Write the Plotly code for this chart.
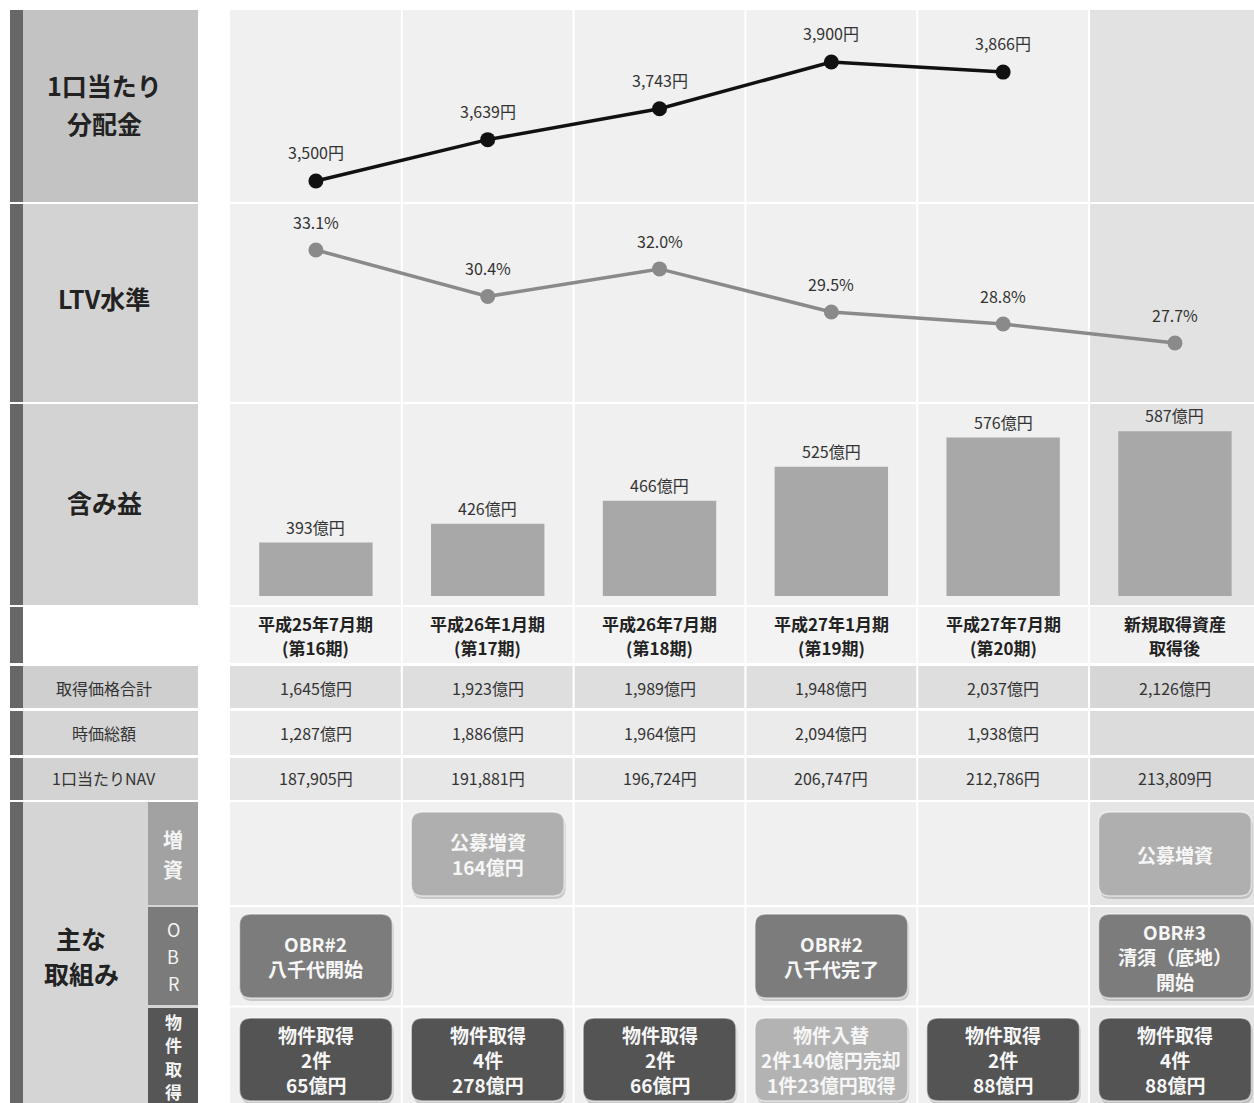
import plotly.graph_objects as go

W, H = 1254, 1103
FONT = "Noto Sans CJK JP"

# ---- data -------------------------------------------------------------
periods = [
    "平成25年7月期<br>(第16期)",
    "平成26年1月期<br>(第17期)",
    "平成26年7月期<br>(第18期)",
    "平成27年1月期<br>(第19期)",
    "平成27年7月期<br>(第20期)",
    "新規取得資産<br>取得後",
]
distribution_yen = [3500, 3639, 3743, 3900, 3866]
ltv_pct = [33.1, 30.4, 32.0, 29.5, 28.8, 27.7]
unrealized_gain = [393, 426, 466, 525, 576, 587]
acq_price_total = [1645, 1923, 1989, 1948, 2037, 2126]
market_value = [1287, 1886, 1964, 2094, 1938, None]
nav_per_unit = [187905, 191881, 196724, 206747, 212786, 213809]
offerings = [None, "公募増資<br>164億円", None, None, None, "公募増資"]
obr_events = ["OBR#2<br>八千代開始", None, None, "OBR#2<br>八千代完了", None,
              "OBR#3<br>清須（底地）<br>開始"]
acquisitions = [
    "物件取得<br>2件<br>65億円",
    "物件取得<br>4件<br>278億円",
    "物件取得<br>2件<br>66億円",
    "物件入替<br>2件140億円売却<br>1件23億円取得",
    "物件取得<br>2件<br>88億円",
    "物件取得<br>4件<br>88億円",
]


def X(px):
    return px / W


def Y(py):
    return 1 - py / H


COL_PX = 171.8  # pixels per column on the shared x axis
n = len(periods)
shapes, annotations = [], []


def rect(x0, x1, y0, y1, color, xref="paper"):
    shapes.append(dict(type="rect", xref=xref, yref="paper", x0=x0, x1=x1,
                       y0=Y(y1), y1=Y(y0), fillcolor=color, line_width=0,
                       layer="below"))


def rounded(cx, half, top, bot, color, r=11, layer="above", line=None):
    rx, ry = r / COL_PX, r / H
    x0, x1 = cx - half, cx + half
    y0, y1 = Y(bot), Y(top)
    path = (f"M {x0+rx},{y1} L {x1-rx},{y1} Q {x1},{y1} {x1},{y1-ry} "
            f"L {x1},{y0+ry} Q {x1},{y0} {x1-rx},{y0} L {x0+rx},{y0} "
            f"Q {x0},{y0} {x0},{y0+ry} L {x0},{y1-ry} Q {x0},{y1} {x0+rx},{y1} Z")
    shp = dict(type="path", xref="x", yref="paper", path=path,
               fillcolor=color, layer=layer, line=dict(width=0))
    if line:
        shp["line"] = line
    shapes.append(shp)


def text(x, y, s, size=16, color="#333333", bold=False, xref="paper", height=None):
    ann = dict(x=x, y=Y(y), xref=xref, yref="paper", text=s,
               showarrow=False, xanchor="center", yanchor="middle",
               font=dict(family=FONT, size=size, color=color,
                         weight="bold" if bold else "normal"))
    if height:
        ann["height"] = height
        ann["borderpad"] = 0
    annotations.append(ann)


# ---- row bands (top, bottom) in pixels ---------------------------------
bands = {
    "dist": (10, 202), "ltv": (204, 402), "gain": (404, 605),
    "head": (607, 663), "acq": (666, 708), "mv": (711, 755),
    "nav": (758, 800), "main": (802, 1103),
}
main_bg = {"dist": ("#f0f0f0", "#e2e2e2"), "ltv": ("#f0f0f0", "#e2e2e2"),
           "gain": ("#f0f0f0", "#e2e2e2"), "head": ("#f3f3f3", "#f1f1f1"),
           "acq": ("#dedede", "#d6d6d6"), "mv": ("#ebebeb", "#dcdcdc"),
           "nav": ("#e7e7e7", "#d9d9d9"), "main": ("#f0f0f0", "#e5e5e5")}
left_bg = {"dist": "#c3c3c3", "ltv": "#d3d3d3", "gain": "#d3d3d3",
           "head": "#ffffff", "acq": "#cfcfcf", "mv": "#d5d5d5",
           "nav": "#d3d3d3", "main": "#d5d5d5"}

for key, (t, b) in bands.items():
    for i in range(n):
        x0 = i - 0.5 + (0.006 if i > 0 else 0)
        x1 = i + 0.5 - 0.006 if i < n - 1 else 5.6
        rect(x0, x1, t, b, main_bg[key][1] if i == n - 1 else main_bg[key][0], xref="x")
    rect(X(10), X(23), t, b, "#676767")
    rect(X(23), X(198), t, b, left_bg[key])

# sub-rows of the initiatives block
sub_rows = [(802, 905, "#a2a2a2"), (907, 1005, "#7b7b7b"), (1008, 1103, "#565656")]
for t, b, c in sub_rows:
    rect(X(148), X(198), t, b, c)
for yy in (906, 1006.5):
    shapes.append(dict(type="line", xref="paper", yref="paper", x0=X(230), x1=1,
                       y0=Y(yy), y1=Y(yy), line=dict(color="#ffffff", width=2),
                       layer="below"))

# ---- left labels -------------------------------------------------------
text(X(104), 85, "1口当たり", 25, "#222222", True)
text(X(104), 123, "分配金", 25, "#222222", True)
text(X(104), 298, "LTV水準", 25, "#222222", True)
text(X(104), 502, "含み益", 25, "#222222", True)
text(X(104), 688, "取得価格合計", 16, "#333333")
text(X(104), 733, "時価総額", 16, "#333333")
text(X(104), 778, "1口当たりNAV", 16, "#333333")
text(X(81), 938, "主な", 25, "#222222", True)
text(X(81), 973, "取組み", 25, "#222222", True)
# stacked (vertical) sub-row captions, one glyph per line
for ch, yy in zip("増資", (839, 869)):
    text(X(173), yy, ch, 20, "#f4f4f4", True, height=22)
for ch, yy in zip("OBR", (929, 956, 983)):
    text(X(173), yy, ch, 18, "#f4f4f4", height=20)
for ch, yy in zip("物件取得", (1021, 1044.5, 1068, 1091.5)):
    text(X(173), yy, ch, 17, "#f4f4f4", True, height=21)

# ---- period headers & table values -------------------------------------
for i, p in enumerate(periods):
    l1, l2 = p.split("<br>")
    text(i, 623, l1, 17, "#222222", True, xref="x")
    text(i, 647, l2, 17, "#222222", True, xref="x")
    text(i, 688, f"{acq_price_total[i]:,}億円", 16, "#333333", xref="x")
    if market_value[i] is not None:
        text(i, 733, f"{market_value[i]:,}億円", 16, "#333333", xref="x")
    text(i, 778, f"{nav_per_unit[i]:,}円", 16, "#333333", xref="x")


# ---- initiative boxes ----------------------------------------------------
def box(i, label, top, bot, color):
    rounded(i + 0.008, 0.445, top + 3, bot + 3, "rgba(0,0,0,0.16)")
    rounded(i, 0.445, top, bot, color,
            line=dict(color="rgba(255,255,255,0.55)", width=1.5))
    lines = label.split("<br>")
    mid = (top + bot) / 2
    for k, ln in enumerate(lines):
        text(i, mid + (k - (len(lines) - 1) / 2) * 25, ln, 19, "#f6f6f6", True, xref="x")


for i in range(n):
    if offerings[i]:
        box(i, offerings[i], 812, 896, "#afafaf")
    if obr_events[i]:
        box(i, obr_events[i], 914, 998, "#7c7c7c")
    if acquisitions[i]:
        col = "#b3b3b3" if acquisitions[i].startswith("物件入替") else "#545454"
        box(i, acquisitions[i], 1018, 1101, col)

# ---- value labels ---------------------------------------------------------
for i, v in enumerate(distribution_yen):
    annotations.append(dict(x=i, y=v, xref="x", yref="y", text=f"{v:,}円",
                            showarrow=False, yanchor="bottom", yshift=15,
                            font=dict(family=FONT, size=16, color="#333333")))
for i, v in enumerate(ltv_pct):
    annotations.append(dict(x=i, y=v, xref="x", yref="y2", text=f"{v:.1f}%",
                            showarrow=False, yanchor="bottom", yshift=14,
                            font=dict(family=FONT, size=16, color="#333333")))
for i, v in enumerate(unrealized_gain):
    annotations.append(dict(x=i, y=v, xref="x", yref="y3", text=f"{v}億円",
                            showarrow=False, yanchor="bottom", yshift=2,
                            font=dict(family=FONT, size=16, color="#333333")))

# ---- traces -------------------------------------------------------------
fig = go.Figure()
fig.add_trace(go.Scatter(
    x=list(range(len(distribution_yen))), y=distribution_yen, mode="lines+markers",
    line=dict(color="#111111", width=3.5), marker=dict(size=15, color="#111111"),
    xaxis="x", yaxis="y", cliponaxis=False, hoverinfo="skip"))
fig.add_trace(go.Scatter(
    x=list(range(len(ltv_pct))), y=ltv_pct, mode="lines+markers",
    line=dict(color="#8a8a8a", width=3.5), marker=dict(size=15, color="#8a8a8a"),
    xaxis="x", yaxis="y2", cliponaxis=False, hoverinfo="skip"))
fig.add_trace(go.Bar(
    x=list(range(len(unrealized_gain))), y=unrealized_gain, width=0.66,
    marker=dict(color="#a8a8a8", line_width=0),
    xaxis="x", yaxis="y3", hoverinfo="skip"))

fig.update_layout(
    width=W, height=H, margin=dict(l=0, r=0, t=0, b=0),
    paper_bgcolor="#ffffff", plot_bgcolor="rgba(0,0,0,0)",
    showlegend=False, shapes=shapes, annotations=annotations,
    xaxis=dict(domain=[X(230), 1], range=[-0.5, 5.46], visible=False, fixedrange=True),
    yaxis=dict(domain=[Y(202), Y(10)], range=[3429.4, 4074.8], visible=False, fixedrange=True),
    yaxis2=dict(domain=[Y(402), Y(204)], range=[24.27, 35.77], visible=False,
                anchor="x", fixedrange=True),
    yaxis3=dict(domain=[Y(596), Y(404)], range=[300, 634.5], visible=False,
                anchor="x", fixedrange=True),
)

fig.write_html("out.html")
